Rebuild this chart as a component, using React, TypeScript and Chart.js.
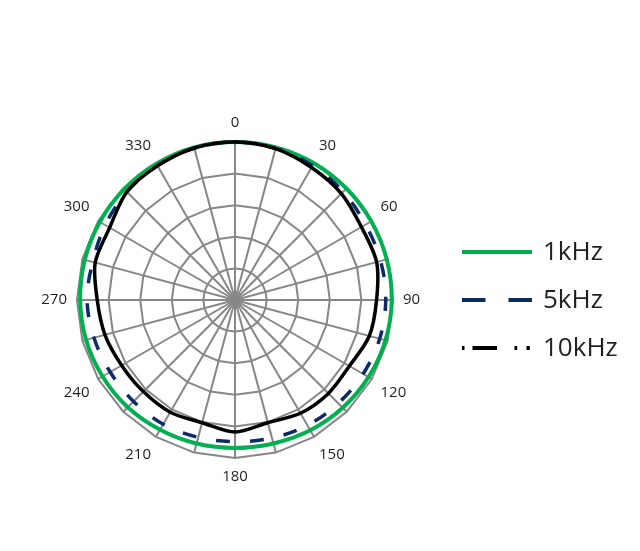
import React, { useEffect, useRef } from 'react';
import { Chart, registerables } from 'chart.js';

Chart.register(...registerables);

// Angles (degrees, clockwise from top) – one spoke every 15°
const ANGLES = [0, 15, 30, 45, 60, 75, 90, 105, 120, 135, 150, 165, 180, 195, 210, 225, 240, 255, 270, 285, 300, 315, 330, 345];
const SHOWN_LABELS = ['0', '30', '60', '90', '120', '150', '180', '210', '240', '270', '300', '330'];

const SERIES_NAMES = ['1kHz', '5kHz', '10kHz'];

// relative level in dB
const DATA_1K = [0, 0, 0, -0.05, -0.1, -0.15, -0.2, -0.35, -0.6, -0.9, -1.2, -1.5, -1.6, -1.5, -1.3, -1.0, -0.8, -0.6, -0.5, -0.4, -0.3, -0.2, -0.1, 0];
const DATA_5K = [0, -0.15, -0.45, -0.8, -1.15, -1.15, -1.15, -1.3, -1.6, -1.9, -2.1, -2.4, -2.6, -2.5, -2.3, -2.3, -2.2, -1.9, -1.6, -1.7, -1.3, -0.8, -0.4, -0.15];
const DATA_10K = [0, -0.2, -0.8, -1.2, -1.9, -1.8, -2.6, -3.0, -4.1, -4.1, -4.3, -4.9, -4.1, -4.9, -4.5, -4.5, -4.3, -3.7, -3.2, -2.1, -2.1, -0.8, -0.5, -0.1];

const R_MIN = -25;
const R_MAX = 0;
const R_STEP = 5;

const COLORS = ['#00b050', '#0b2a66', '#000000'];
const TEXT_COLOR = '#231f20';
const GRID_COLOR = '#878787';

const LEGEND_DASHES = [[], [23.5, 23, 23.5, 100], [2.5, 8, 24.5, 17.5, 2.7, 9.3, 3.3, 100]];

const sideLegend = {
  id: 'sideLegend',
  afterDraw(chart: any) {
    const ctx = chart.ctx as CanvasRenderingContext2D;
    const x0 = 462;
    const x1 = 532;
    const ys = [252, 300, 348];
    chart.data.datasets.forEach((ds: any, i: number) => {
      const y = ys[i];
      ctx.save();
      ctx.strokeStyle = ds.borderColor;
      ctx.lineWidth = 4;
      ctx.lineCap = 'butt';
      ctx.setLineDash(LEGEND_DASHES[i]);
      ctx.beginPath();
      ctx.moveTo(x0, y);
      ctx.lineTo(x1, y);
      ctx.stroke();
      ctx.setLineDash([]);
      ctx.fillStyle = TEXT_COLOR;
      ctx.font = '26px "Open Sans", sans-serif';
      ctx.textAlign = 'left';
      ctx.textBaseline = 'middle';
      ctx.fillText(ds.label, 543, y + 1);
      ctx.restore();
    });
  },
};

export default function App() {
  const ref = useRef<HTMLCanvasElement>(null);

  useEffect(() => {
    if (!ref.current) return;
    const chart = new Chart(ref.current, {
      type: 'radar',
      data: {
        labels: ANGLES.map((a) => String(a)),
        datasets: [
          {
            label: SERIES_NAMES[0],
            data: DATA_1K,
            borderColor: COLORS[0],
            backgroundColor: 'transparent',
            borderWidth: 4,
            pointRadius: 0,
            tension: 0.35,
            fill: false,
            order: 3,
          },
          {
            label: SERIES_NAMES[1],
            data: DATA_5K,
            borderColor: COLORS[1],
            backgroundColor: 'transparent',
            borderWidth: 3.5,
            borderDash: [14, 20],
            pointRadius: 0,
            tension: 0.35,
            fill: false,
            order: 2,
          },
          {
            label: SERIES_NAMES[2],
            data: DATA_10K,
            borderColor: COLORS[2],
            backgroundColor: 'transparent',
            borderWidth: 3.5,
            pointRadius: 0,
            tension: 0.3,
            fill: false,
            order: 1,
          },
        ],
      },
      options: {
        responsive: false,
        animation: false,
        events: [],
        plugins: {
          legend: { display: false },
          tooltip: { enabled: false },
          title: { display: false },
        },
        scales: {
          r: {
            min: R_MIN,
            max: R_MAX,
            startAngle: 0,
            ticks: { stepSize: R_STEP, display: false },
            grid: { color: GRID_COLOR, lineWidth: 2, circular: false },
            angleLines: { color: GRID_COLOR, lineWidth: 2 },
            pointLabels: {
              color: TEXT_COLOR,
              padding: 10,
              font: { family: '"Open Sans", sans-serif', size: 15 },
              callback: (label: string) => (SHOWN_LABELS.includes(label) ? label : ''),
            },
            afterSetDimensions: (scale: any) => {
              scale.xCenter = 235;
              scale.yCenter = 300;
              scale.drawingArea = 158;
            },
          },
        },
      },
      plugins: [sideLegend],
    });
    return () => chart.destroy();
  }, []);

  return (
    <div style={{ position: 'absolute', left: 0, top: 0, width: 640, height: 551, background: '#fff' }}>
      <canvas ref={ref} width={640} height={551} style={{ display: 'block', width: 640, height: 551 }} />
    </div>
  );
}
